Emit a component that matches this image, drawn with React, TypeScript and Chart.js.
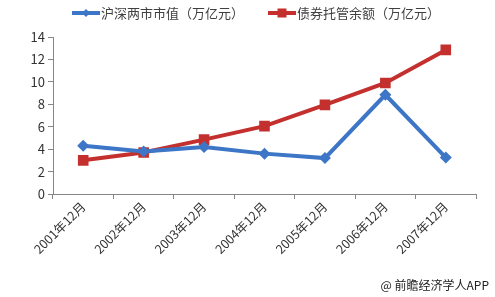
import React, { useEffect, useRef } from "react";
import { Chart, registerables } from "chart.js";

Chart.register(...registerables);

const categories = ["2001年12月", "2002年12月", "2003年12月", "2004年12月", "2005年12月", "2006年12月", "2007年12月"];
const marketValue = [4.3, 3.8, 4.2, 3.6, 3.2, 8.85, 3.25];
const bondCustody = [3.0, 3.7, 4.85, 6.05, 7.95, 9.9, 12.85];
const seriesNames = ["沪深两市市值（万亿元）", "债券托管余额（万亿元）"];
const yTicks = [0, 2, 4, 6, 8, 10, 12, 14];

const BLUE = "#3D76C6";
const RED = "#C3302E";
const FONT = "'Noto Sans CJK SC', 'Noto Sans', sans-serif";

const legendPlugin = {
  id: "customLegend",
  afterDraw(chart: any) {
    const ctx = chart.ctx;
    ctx.save();
    const items = [
      { x: 72, color: BLUE, shape: "diamond", text: seriesNames[0] },
      { x: 268, color: RED, shape: "square", text: seriesNames[1] },
    ];
    const y = 13;
    items.forEach((it) => {
      ctx.strokeStyle = it.color;
      ctx.lineWidth = 4;
      ctx.beginPath();
      ctx.moveTo(it.x, y);
      ctx.lineTo(it.x + 28, y);
      ctx.stroke();
      ctx.fillStyle = it.color;
      const cx = it.x + 14;
      if (it.shape === "diamond") {
        ctx.beginPath();
        ctx.moveTo(cx, y - 4);
        ctx.lineTo(cx + 4, y);
        ctx.lineTo(cx, y + 4);
        ctx.lineTo(cx - 4, y);
        ctx.closePath();
        ctx.fill();
      } else {
        ctx.fillRect(cx - 4.5, y - 4.5, 9, 9);
      }
      ctx.fillStyle = "#404040";
      ctx.font = `13px ${FONT}`;
      ctx.textBaseline = "middle";
      ctx.textAlign = "left";
      ctx.fillText(it.text, it.x + 29, y);
    });
    ctx.fillStyle = "#222";
    ctx.font = `12px ${FONT}`;
    ctx.textAlign = "right";
    ctx.fillText("@ 前瞻经济学人APP", 489, 285);
    ctx.restore();
  },
};

export default function App() {
  const ref = useRef<HTMLCanvasElement>(null);
  useEffect(() => {
    if (!ref.current) return;
    const chart = new Chart(ref.current, {
      type: "line",
      data: {
        labels: categories,
        datasets: [
          {
            label: seriesNames[0],
            data: marketValue,
            borderColor: BLUE,
            backgroundColor: BLUE,
            borderWidth: 4,
            pointStyle: "rectRot",
            pointRadius: 6,
            pointBorderWidth: 0,
            tension: 0,
          },
          {
            label: seriesNames[1],
            data: bondCustody,
            borderColor: RED,
            backgroundColor: RED,
            borderWidth: 4,
            pointStyle: "rect",
            pointRadius: 7.5,
            pointBorderWidth: 0,
            tension: 0,
          },
        ],
      },
      options: {
        animation: false,
        responsive: false,
        layout: { padding: { top: 37, right: 19, bottom: 0, left: 0 } },
        plugins: { legend: { display: false }, tooltip: { enabled: false } },
        scales: {
          x: {
            offset: true,
            grid: { offset: true, drawOnChartArea: false, drawTicks: true, tickLength: 5, color: "#868686" },
            border: { color: "#868686" },
            ticks: {
              minRotation: 45,
              maxRotation: 45,
              color: "#333",
              font: { family: FONT, size: 12.5 },
              padding: 0,
            },
            afterFit(scale: any) {
              scale.height = 103;
            },
          },
          y: {
            min: 0,
            max: 14,
            afterBuildTicks(scale: any) {
              scale.ticks = yTicks.map((v) => ({ value: v }));
            },
            grid: { drawOnChartArea: false, drawTicks: true, tickLength: 5, color: "#868686" },
            border: { color: "#868686" },
            ticks: { color: "#333", font: { family: FONT, size: 13 }, padding: 3 },
            afterFit(scale: any) {
              scale.width = 53;
            },
          },
        },
      },
      plugins: [legendPlugin],
    });
    return () => chart.destroy();
  }, []);
  return (
    <div style={{ position: "absolute", left: 0, top: 0, width: 495, height: 297, background: "#fff" }}>
      <canvas ref={ref} width={495} height={297} />
    </div>
  );
}
